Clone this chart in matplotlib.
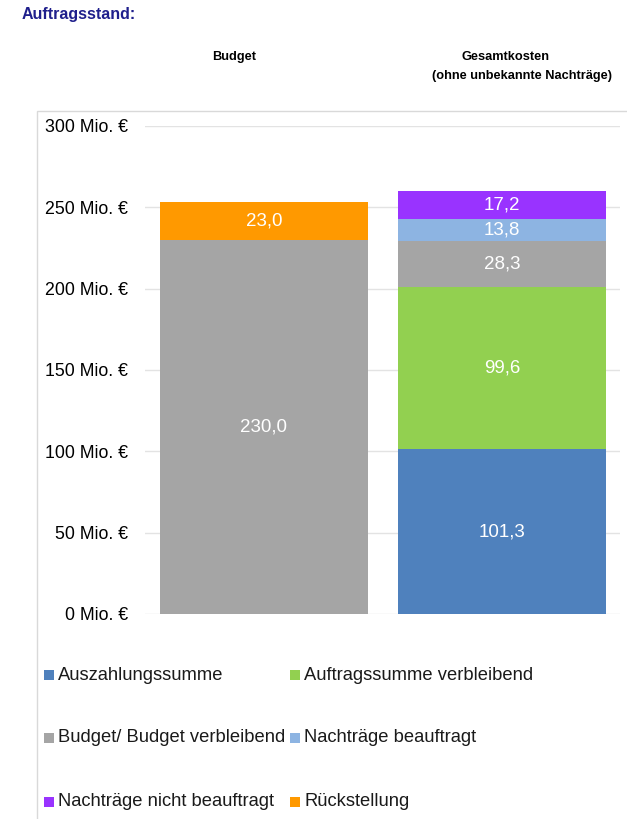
import matplotlib
matplotlib.use("Agg")
import matplotlib.pyplot as plt
from matplotlib.patches import Rectangle

plt.rcParams['font.family'] = ['Liberation Sans', 'DejaVu Sans']

# data
categories = ['Budget', 'Gesamtkosten']
series_names = ['Auszahlungssumme', 'Auftragssumme verbleibend',
                'Budget/ Budget verbleibend', 'Nachträge beauftragt',
                'Nachträge nicht beauftragt', 'Rückstellung']
colors = ['#4F81BD', '#92D050', '#A5A5A5', '#8DB4E2', '#9933FF', '#FF9900']
auszahlung = [0, 101.3]
auftrag_verbl = [0, 99.6]
budget_verbl = [230.0, 28.3]
nachtr_beauftr = [0, 13.8]
nachtr_nicht = [0, 17.2]
rueckstellung = [23.0, 0]
yticks = [0, 50, 100, 150, 200, 250, 300]

series = [auszahlung, auftrag_verbl, budget_verbl, nachtr_beauftr,
          nachtr_nicht, rueckstellung]

fig = plt.figure(figsize=(6.27, 8.19), dpi=100)
W, H = 627, 819

# chart frame
fig.patches.append(Rectangle((37 / W, -0.01), 1.0, (819 - 111) / H + 0.01,
                             transform=fig.transFigure, fill=False,
                             edgecolor='#d9d9d9', linewidth=1.0, zorder=0))

ax = fig.add_axes([145 / W, (819 - 614) / H, 475 / W, (614 - 126) / H])
x = [0, 1]
bottom = [0, 0]
for name, vals, col in zip(series_names, series, colors):
    bars = ax.bar(x, vals, width=0.874, bottom=bottom, color=col, label=name, zorder=2)
    labels = [('%.1f' % v).replace('.', ',') if v > 0 else '' for v in vals]
    ax.bar_label(bars, labels=labels, label_type='center', color='white', fontsize=13.5)
    bottom = [b + v for b, v in zip(bottom, vals)]

ax.set_xlim(-0.5, 1.496)
ax.set_ylim(0, 300)
ax.set_yticks(yticks)
ax.set_yticklabels(['%d Mio. €' % t for t in yticks], fontsize=12.8)
ax.tick_params(axis='y', length=0, pad=12)
ax.set_xticks([])
ax.grid(axis='y', color='#e3e3e3', linewidth=1, zorder=0)
for s in ax.spines.values():
    s.set_visible(False)

fig.text(22 / W, 1 - 15 / H, 'Auftragsstand:', color='#1F1F8C', fontsize=11.5,
         fontweight='bold', va='center', ha='left')
fig.text(234.5 / W, 1 - 57 / H, categories[0], fontsize=9.2, fontweight='bold',
         ha='center', va='center')
fig.text(505 / W, 1 - 57 / H, categories[1], fontsize=9.2, fontweight='bold',
         ha='center', va='center')
fig.text(522 / W, 1 - 76 / H, '(ohne unbekannte Nachträge)', fontsize=9.2,
         fontweight='bold', ha='center', va='center')

# legend in two columns
col1 = [0, 2, 4]
col2 = [1, 3, 5]
rows_y = [675, 738, 802]
for c, xs in ((col1, 44), (col2, 290)):
    for i, yy in zip(c, rows_y):
        fig.patches.append(Rectangle((xs / W, 1 - (yy + 5) / H), 10 / W, 10 / H,
                                     transform=fig.transFigure,
                                     facecolor=colors[i], edgecolor='none'))
        fig.text((xs + 14) / W, 1 - yy / H, series_names[i], fontsize=13.2,
                 va='center', ha='left', color='#1a1a1a')

fig.savefig('out.png', dpi=100)
